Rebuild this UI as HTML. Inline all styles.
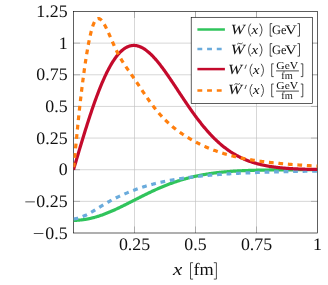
<!DOCTYPE html>
<html><head><meta charset="utf-8"><title>plot</title>
<style>html,body{margin:0;padding:0;background:#fff;width:328px;height:285px;overflow:hidden}</style></head>
<body>
<svg width="328" height="285" viewBox="0 0 328 285" style="position:absolute;left:0;top:0">
<defs><clipPath id="c"><rect x="73.50" y="11.50" width="244.00" height="221.50"/></clipPath></defs>
<rect width="328" height="285" fill="#fff"/>
<path d="M134.50 11.50V233.00M195.50 11.50V233.00M256.50 11.50V233.00M73.50 43.14H317.50M73.50 74.79H317.50M73.50 106.43H317.50M73.50 138.07H317.50M73.50 169.71H317.50M73.50 201.36H317.50" stroke="#bfbfbf" stroke-width="0.63" fill="none"/>
<path d="M134.50 233.00v-6.50M134.50 11.50v6.50M195.50 233.00v-6.50M195.50 11.50v6.50M256.50 233.00v-6.50M256.50 11.50v6.50M73.50 43.14h6.50M317.50 43.14h-6.50M73.50 74.79h6.50M317.50 74.79h-6.50M73.50 106.43h6.50M317.50 106.43h-6.50M73.50 138.07h6.50M317.50 138.07h-6.50M73.50 169.71h6.50M317.50 169.71h-6.50M73.50 201.36h6.50M317.50 201.36h-6.50" stroke="#7f7f7f" stroke-width="0.5" fill="none"/>
<rect x="73.50" y="11.50" width="244.00" height="221.50" fill="none" stroke="#000" stroke-width="0.63"/>
<g clip-path="url(#c)" fill="none" stroke-width="3.20" stroke-linejoin="round">
<path d="M73.50 220.34 L74.11 220.34 L74.72 220.33 L75.33 220.32 L75.94 220.30 L76.55 220.28 L77.16 220.25 L77.77 220.22 L78.38 220.18 L78.99 220.13 L79.60 220.08 L80.21 220.03 L80.82 219.97 L81.43 219.91 L82.04 219.84 L82.65 219.76 L83.26 219.68 L83.87 219.60 L84.48 219.51 L85.09 219.42 L85.70 219.32 L86.31 219.21 L86.92 219.10 L87.53 218.99 L88.14 218.87 L88.75 218.75 L89.36 218.62 L89.97 218.49 L90.58 218.35 L91.19 218.21 L91.80 218.06 L92.41 217.91 L93.02 217.76 L93.63 217.60 L94.24 217.43 L94.85 217.27 L95.46 217.09 L96.07 216.92 L96.68 216.74 L97.29 216.55 L97.90 216.36 L98.51 216.17 L99.12 215.97 L99.73 215.77 L100.34 215.57 L100.95 215.36 L101.56 215.15 L102.17 214.93 L102.78 214.71 L103.39 214.49 L104.00 214.26 L104.61 214.03 L105.22 213.80 L105.83 213.56 L106.44 213.32 L107.05 213.08 L107.66 212.84 L108.27 212.59 L108.88 212.34 L109.49 212.08 L110.10 211.82 L110.71 211.57 L111.32 211.30 L111.93 211.04 L112.54 210.77 L113.15 210.50 L113.76 210.23 L114.37 209.95 L114.98 209.68 L115.59 209.40 L116.20 209.11 L116.81 208.83 L117.42 208.55 L118.03 208.26 L118.64 207.97 L119.25 207.68 L119.86 207.39 L120.47 207.09 L121.08 206.80 L121.69 206.50 L122.30 206.20 L122.91 205.90 L123.52 205.60 L124.13 205.30 L124.74 205.00 L125.35 204.70 L125.96 204.39 L126.57 204.08 L127.18 203.78 L127.79 203.47 L128.40 203.16 L129.01 202.86 L129.62 202.55 L130.23 202.24 L130.84 201.93 L131.45 201.62 L132.06 201.31 L132.67 201.00 L133.28 200.69 L133.89 200.38 L134.50 200.06 L135.11 199.75 L135.72 199.44 L136.33 199.13 L136.94 198.82 L137.55 198.51 L138.16 198.20 L138.77 197.90 L139.38 197.59 L139.99 197.28 L140.60 196.97 L141.21 196.67 L141.82 196.36 L142.43 196.06 L143.04 195.75 L143.65 195.45 L144.26 195.15 L144.87 194.84 L145.48 194.54 L146.09 194.24 L146.70 193.95 L147.31 193.65 L147.92 193.35 L148.53 193.06 L149.14 192.77 L149.75 192.47 L150.36 192.18 L150.97 191.89 L151.58 191.61 L152.19 191.32 L152.80 191.04 L153.41 190.75 L154.02 190.47 L154.63 190.19 L155.24 189.91 L155.85 189.64 L156.46 189.36 L157.07 189.09 L157.68 188.82 L158.29 188.55 L158.90 188.28 L159.51 188.02 L160.12 187.76 L160.73 187.50 L161.34 187.24 L161.95 186.98 L162.56 186.72 L163.17 186.47 L163.78 186.22 L164.39 185.97 L165.00 185.72 L165.61 185.48 L166.22 185.24 L166.83 185.00 L167.44 184.76 L168.05 184.52 L168.66 184.29 L169.27 184.06 L169.88 183.83 L170.49 183.60 L171.10 183.38 L171.71 183.15 L172.32 182.93 L172.93 182.71 L173.54 182.50 L174.15 182.29 L174.76 182.07 L175.37 181.87 L175.98 181.66 L176.59 181.45 L177.20 181.25 L177.81 181.05 L178.42 180.86 L179.03 180.66 L179.64 180.47 L180.25 180.28 L180.86 180.09 L181.47 179.90 L182.08 179.72 L182.69 179.54 L183.30 179.36 L183.91 179.18 L184.52 179.01 L185.13 178.84 L185.74 178.67 L186.35 178.50 L186.96 178.34 L187.57 178.17 L188.18 178.01 L188.79 177.85 L189.40 177.70 L190.01 177.54 L190.62 177.39 L191.23 177.24 L191.84 177.09 L192.45 176.95 L193.06 176.80 L193.67 176.66 L194.28 176.52 L194.89 176.39 L195.50 176.25 L196.11 176.12 L196.72 175.99 L197.33 175.86 L197.94 175.73 L198.55 175.61 L199.16 175.49 L199.77 175.37 L200.38 175.25 L200.99 175.13 L201.60 175.02 L202.21 174.90 L202.82 174.79 L203.43 174.68 L204.04 174.57 L204.65 174.47 L205.26 174.37 L205.87 174.26 L206.48 174.16 L207.09 174.06 L207.70 173.97 L208.31 173.87 L208.92 173.78 L209.53 173.69 L210.14 173.60 L210.75 173.51 L211.36 173.42 L211.97 173.34 L212.58 173.26 L213.19 173.17 L213.80 173.09 L214.41 173.01 L215.02 172.94 L215.63 172.86 L216.24 172.79 L216.85 172.71 L217.46 172.64 L218.07 172.57 L218.68 172.50 L219.29 172.44 L219.90 172.37 L220.51 172.31 L221.12 172.24 L221.73 172.18 L222.34 172.12 L222.95 172.06 L223.56 172.00 L224.17 171.95 L224.78 171.89 L225.39 171.84 L226.00 171.78 L226.61 171.73 L227.22 171.68 L227.83 171.63 L228.44 171.58 L229.05 171.53 L229.66 171.48 L230.27 171.44 L230.88 171.39 L231.49 171.35 L232.10 171.31 L232.71 171.26 L233.32 171.22 L233.93 171.18 L234.54 171.14 L235.15 171.11 L235.76 171.07 L236.37 171.03 L236.98 171.00 L237.59 170.96 L238.20 170.93 L238.81 170.90 L239.42 170.86 L240.03 170.83 L240.64 170.80 L241.25 170.77 L241.86 170.74 L242.47 170.71 L243.08 170.68 L243.69 170.66 L244.30 170.63 L244.91 170.60 L245.52 170.58 L246.13 170.55 L246.74 170.53 L247.35 170.51 L247.96 170.48 L248.57 170.46 L249.18 170.44 L249.79 170.42 L250.40 170.40 L251.01 170.38 L251.62 170.36 L252.23 170.34 L252.84 170.32 L253.45 170.30 L254.06 170.29 L254.67 170.27 L255.28 170.25 L255.89 170.24 L256.50 170.22 L257.11 170.21 L257.72 170.19 L258.33 170.18 L258.94 170.16 L259.55 170.15 L260.16 170.13 L260.77 170.12 L261.38 170.11 L261.99 170.10 L262.60 170.08 L263.21 170.07 L263.82 170.06 L264.43 170.05 L265.04 170.04 L265.65 170.03 L266.26 170.02 L266.87 170.01 L267.48 170.00 L268.09 169.99 L268.70 169.98 L269.31 169.97 L269.92 169.97 L270.53 169.96 L271.14 169.95 L271.75 169.94 L272.36 169.93 L272.97 169.93 L273.58 169.92 L274.19 169.91 L274.80 169.91 L275.41 169.90 L276.02 169.89 L276.63 169.89 L277.24 169.88 L277.85 169.88 L278.46 169.87 L279.07 169.87 L279.68 169.86 L280.29 169.86 L280.90 169.85 L281.51 169.85 L282.12 169.84 L282.73 169.84 L283.34 169.83 L283.95 169.83 L284.56 169.82 L285.17 169.82 L285.78 169.82 L286.39 169.81 L287.00 169.81 L287.61 169.81 L288.22 169.80 L288.83 169.80 L289.44 169.80 L290.05 169.79 L290.66 169.79 L291.27 169.79 L291.88 169.79 L292.49 169.78 L293.10 169.78 L293.71 169.78 L294.32 169.78 L294.93 169.77 L295.54 169.77 L296.15 169.77 L296.76 169.77 L297.37 169.77 L297.98 169.76 L298.59 169.76 L299.20 169.76 L299.81 169.76 L300.42 169.76 L301.03 169.76 L301.64 169.75 L302.25 169.75 L302.86 169.75 L303.47 169.75 L304.08 169.75 L304.69 169.75 L305.30 169.75 L305.91 169.74 L306.52 169.74 L307.13 169.74 L307.74 169.74 L308.35 169.74 L308.96 169.74 L309.57 169.74 L310.18 169.74 L310.79 169.74 L311.40 169.74 L312.01 169.73 L312.62 169.73 L313.23 169.73 L313.84 169.73 L314.45 169.73 L315.06 169.73 L315.67 169.73 L316.28 169.73 L316.89 169.73 L317.50 169.73" stroke="#30c45c"/>
<path transform="scale(1.0100,1)" d="M72.77 218.97 L73.38 218.90 L73.98 218.81 L74.58 218.72 L75.19 218.60 L75.79 218.48 L76.40 218.34 L77.00 218.19 L77.60 218.03 L78.21 217.86 L78.81 217.68 L79.42 217.48 L80.02 217.27 L80.62 217.05 L81.23 216.83 L81.83 216.59 L82.44 216.34 L83.04 216.08 L83.64 215.81 L84.25 215.53 L84.85 215.24 L85.46 214.95 L86.06 214.64 L86.66 214.33 L87.27 214.01 L87.87 213.68 L88.48 213.35 L89.08 213.01 L89.68 212.66 L90.29 212.31 L90.89 211.95 L91.50 211.59 L92.10 211.23 L92.70 210.86 L93.31 210.49 L93.91 210.11 L94.51 209.73 L95.12 209.36 L95.72 208.98 L96.33 208.60 L96.93 208.22 L97.53 207.84 L98.14 207.46 L98.74 207.08 L99.35 206.70 L99.95 206.32 L100.55 205.95 L101.16 205.57 L101.76 205.20 L102.37 204.83 L102.97 204.47 L103.57 204.10 L104.18 203.74 L104.78 203.38 L105.39 203.03 L105.99 202.67 L106.59 202.32 L107.20 201.98 L107.80 201.64 L108.41 201.30 L109.01 200.96 L109.61 200.63 L110.22 200.30 L110.82 199.98 L111.43 199.66 L112.03 199.34 L112.63 199.02 L113.24 198.71 L113.84 198.40 L114.45 198.10 L115.05 197.80 L115.65 197.50 L116.26 197.21 L116.86 196.92 L117.47 196.63 L118.07 196.34 L118.67 196.06 L119.28 195.78 L119.88 195.50 L120.49 195.22 L121.09 194.95 L121.69 194.68 L122.30 194.41 L122.90 194.15 L123.50 193.89 L124.11 193.62 L124.71 193.37 L125.32 193.11 L125.92 192.86 L126.52 192.60 L127.13 192.35 L127.73 192.11 L128.34 191.86 L128.94 191.62 L129.54 191.38 L130.15 191.14 L130.75 190.90 L131.36 190.67 L131.96 190.44 L132.56 190.21 L133.17 189.98 L133.77 189.75 L134.38 189.53 L134.98 189.31 L135.58 189.09 L136.19 188.87 L136.79 188.66 L137.40 188.45 L138.00 188.24 L138.60 188.03 L139.21 187.82 L139.81 187.62 L140.42 187.42 L141.02 187.22 L141.62 187.03 L142.23 186.83 L142.83 186.64 L143.44 186.45 L144.04 186.26 L144.64 186.08 L145.25 185.90 L145.85 185.72 L146.46 185.54 L147.06 185.36 L147.66 185.19 L148.27 185.02 L148.87 184.85 L149.48 184.68 L150.08 184.51 L150.68 184.35 L151.29 184.19 L151.89 184.03 L152.50 183.87 L153.10 183.72 L153.70 183.56 L154.31 183.41 L154.91 183.26 L155.51 183.12 L156.12 182.97 L156.72 182.83 L157.33 182.68 L157.93 182.54 L158.53 182.40 L159.14 182.27 L159.74 182.13 L160.35 182.00 L160.95 181.87 L161.55 181.74 L162.16 181.61 L162.76 181.48 L163.37 181.35 L163.97 181.23 L164.57 181.11 L165.18 180.99 L165.78 180.87 L166.39 180.75 L166.99 180.63 L167.59 180.52 L168.20 180.40 L168.80 180.29 L169.41 180.18 L170.01 180.07 L170.61 179.96 L171.22 179.85 L171.82 179.74 L172.43 179.64 L173.03 179.53 L173.63 179.43 L174.24 179.33 L174.84 179.23 L175.45 179.13 L176.05 179.03 L176.65 178.94 L177.26 178.84 L177.86 178.75 L178.47 178.65 L179.07 178.56 L179.67 178.47 L180.28 178.38 L180.88 178.29 L181.49 178.20 L182.09 178.11 L182.69 178.03 L183.30 177.94 L183.90 177.86 L184.50 177.77 L185.11 177.69 L185.71 177.61 L186.32 177.53 L186.92 177.45 L187.52 177.37 L188.13 177.29 L188.73 177.22 L189.34 177.14 L189.94 177.07 L190.54 176.99 L191.15 176.92 L191.75 176.85 L192.36 176.78 L192.96 176.70 L193.56 176.63 L194.17 176.57 L194.77 176.50 L195.38 176.43 L195.98 176.36 L196.58 176.30 L197.19 176.23 L197.79 176.17 L198.40 176.10 L199.00 176.04 L199.60 175.98 L200.21 175.92 L200.81 175.86 L201.42 175.80 L202.02 175.74 L202.62 175.68 L203.23 175.62 L203.83 175.56 L204.44 175.51 L205.04 175.45 L205.64 175.39 L206.25 175.34 L206.85 175.29 L207.46 175.23 L208.06 175.18 L208.66 175.13 L209.27 175.08 L209.87 175.02 L210.48 174.97 L211.08 174.92 L211.68 174.88 L212.29 174.83 L212.89 174.78 L213.50 174.73 L214.10 174.68 L214.70 174.64 L215.31 174.59 L215.91 174.55 L216.51 174.50 L217.12 174.46 L217.72 174.41 L218.33 174.37 L218.93 174.33 L219.53 174.29 L220.14 174.24 L220.74 174.20 L221.35 174.16 L221.95 174.12 L222.55 174.08 L223.16 174.04 L223.76 174.00 L224.37 173.97 L224.97 173.93 L225.57 173.89 L226.18 173.85 L226.78 173.82 L227.39 173.78 L227.99 173.74 L228.59 173.71 L229.20 173.67 L229.80 173.64 L230.41 173.60 L231.01 173.57 L231.61 173.54 L232.22 173.50 L232.82 173.47 L233.43 173.44 L234.03 173.41 L234.63 173.37 L235.24 173.34 L235.84 173.31 L236.45 173.28 L237.05 173.25 L237.65 173.22 L238.26 173.19 L238.86 173.16 L239.47 173.13 L240.07 173.10 L240.67 173.07 L241.28 173.05 L241.88 173.02 L242.49 172.99 L243.09 172.96 L243.69 172.94 L244.30 172.91 L244.90 172.88 L245.50 172.86 L246.11 172.83 L246.71 172.81 L247.32 172.78 L247.92 172.75 L248.52 172.73 L249.13 172.71 L249.73 172.68 L250.34 172.66 L250.94 172.63 L251.54 172.61 L252.15 172.59 L252.75 172.56 L253.36 172.54 L253.96 172.52 L254.56 172.50 L255.17 172.47 L255.77 172.45 L256.38 172.43 L256.98 172.41 L257.58 172.39 L258.19 172.37 L258.79 172.34 L259.40 172.32 L260.00 172.30 L260.60 172.28 L261.21 172.26 L261.81 172.24 L262.42 172.22 L263.02 172.20 L263.62 172.18 L264.23 172.16 L264.83 172.15 L265.44 172.13 L266.04 172.11 L266.64 172.09 L267.25 172.07 L267.85 172.05 L268.46 172.04 L269.06 172.02 L269.66 172.00 L270.27 171.98 L270.87 171.97 L271.48 171.95 L272.08 171.93 L272.68 171.92 L273.29 171.90 L273.89 171.88 L274.50 171.87 L275.10 171.85 L275.70 171.83 L276.31 171.82 L276.91 171.80 L277.51 171.79 L278.12 171.77 L278.72 171.76 L279.33 171.74 L279.93 171.73 L280.53 171.71 L281.14 171.70 L281.74 171.68 L282.35 171.67 L282.95 171.65 L283.55 171.64 L284.16 171.62 L284.76 171.61 L285.37 171.60 L285.97 171.58 L286.57 171.57 L287.18 171.56 L287.78 171.54 L288.39 171.53 L288.99 171.52 L289.59 171.50 L290.20 171.49 L290.80 171.48 L291.41 171.46 L292.01 171.45 L292.61 171.44 L293.22 171.43 L293.82 171.41 L294.43 171.40 L295.03 171.39 L295.63 171.38 L296.24 171.37 L296.84 171.36 L297.45 171.34 L298.05 171.33 L298.65 171.32 L299.26 171.31 L299.86 171.30 L300.47 171.29 L301.07 171.28 L301.67 171.27 L302.28 171.25 L302.88 171.24 L303.49 171.23 L304.09 171.22 L304.69 171.21 L305.30 171.20 L305.90 171.19 L306.50 171.18 L307.11 171.17 L307.71 171.16 L308.32 171.15 L308.92 171.14 L309.52 171.13 L310.13 171.12 L310.73 171.11 L311.34 171.10 L311.94 171.09 L312.54 171.09 L313.15 171.08 L313.75 171.07 L314.36 171.06" stroke="#6aabdc" stroke-dasharray="4.712 4.712" stroke-dashoffset="0"/>
<path d="M73.50 169.71 L74.11 167.64 L74.72 165.57 L75.33 163.50 L75.94 161.43 L76.55 159.36 L77.16 157.30 L77.77 155.24 L78.38 153.19 L78.99 151.14 L79.60 149.09 L80.21 147.06 L80.82 145.03 L81.43 143.00 L82.04 140.99 L82.65 138.98 L83.26 136.98 L83.87 135.00 L84.48 133.02 L85.09 131.06 L85.70 129.10 L86.31 127.16 L86.92 125.23 L87.53 123.32 L88.14 121.42 L88.75 119.53 L89.36 117.66 L89.97 115.80 L90.58 113.96 L91.19 112.14 L91.80 110.34 L92.41 108.55 L93.02 106.78 L93.63 105.03 L94.24 103.29 L94.85 101.58 L95.46 99.89 L96.07 98.22 L96.68 96.57 L97.29 94.94 L97.90 93.33 L98.51 91.74 L99.12 90.18 L99.73 88.64 L100.34 87.12 L100.95 85.63 L101.56 84.16 L102.17 82.72 L102.78 81.30 L103.39 79.90 L104.00 78.53 L104.61 77.19 L105.22 75.87 L105.83 74.58 L106.44 73.31 L107.05 72.07 L107.66 70.86 L108.27 69.67 L108.88 68.52 L109.49 67.38 L110.10 66.28 L110.71 65.21 L111.32 64.16 L111.93 63.14 L112.54 62.15 L113.15 61.19 L113.76 60.26 L114.37 59.35 L114.98 58.48 L115.59 57.63 L116.20 56.81 L116.81 56.02 L117.42 55.26 L118.03 54.53 L118.64 53.82 L119.25 53.15 L119.86 52.51 L120.47 51.89 L121.08 51.30 L121.69 50.74 L122.30 50.21 L122.91 49.71 L123.52 49.24 L124.13 48.80 L124.74 48.38 L125.35 47.99 L125.96 47.63 L126.57 47.30 L127.18 47.00 L127.79 46.72 L128.40 46.48 L129.01 46.26 L129.62 46.06 L130.23 45.90 L130.84 45.76 L131.45 45.64 L132.06 45.56 L132.67 45.50 L133.28 45.46 L133.89 45.45 L134.50 45.47 L135.11 45.51 L135.72 45.58 L136.33 45.67 L136.94 45.78 L137.55 45.92 L138.16 46.09 L138.77 46.27 L139.38 46.48 L139.99 46.72 L140.60 46.97 L141.21 47.25 L141.82 47.55 L142.43 47.87 L143.04 48.21 L143.65 48.57 L144.26 48.95 L144.87 49.35 L145.48 49.78 L146.09 50.22 L146.70 50.68 L147.31 51.16 L147.92 51.66 L148.53 52.17 L149.14 52.70 L149.75 53.25 L150.36 53.82 L150.97 54.40 L151.58 55.00 L152.19 55.62 L152.80 56.24 L153.41 56.89 L154.02 57.55 L154.63 58.22 L155.24 58.91 L155.85 59.61 L156.46 60.32 L157.07 61.04 L157.68 61.78 L158.29 62.53 L158.90 63.28 L159.51 64.06 L160.12 64.84 L160.73 65.63 L161.34 66.43 L161.95 67.24 L162.56 68.05 L163.17 68.88 L163.78 69.72 L164.39 70.56 L165.00 71.41 L165.61 72.27 L166.22 73.13 L166.83 74.00 L167.44 74.88 L168.05 75.76 L168.66 76.64 L169.27 77.54 L169.88 78.43 L170.49 79.33 L171.10 80.24 L171.71 81.14 L172.32 82.06 L172.93 82.97 L173.54 83.88 L174.15 84.80 L174.76 85.72 L175.37 86.64 L175.98 87.57 L176.59 88.49 L177.20 89.42 L177.81 90.34 L178.42 91.27 L179.03 92.19 L179.64 93.11 L180.25 94.04 L180.86 94.96 L181.47 95.88 L182.08 96.80 L182.69 97.72 L183.30 98.63 L183.91 99.55 L184.52 100.46 L185.13 101.37 L185.74 102.27 L186.35 103.17 L186.96 104.07 L187.57 104.97 L188.18 105.86 L188.79 106.74 L189.40 107.63 L190.01 108.51 L190.62 109.38 L191.23 110.25 L191.84 111.11 L192.45 111.97 L193.06 112.82 L193.67 113.67 L194.28 114.51 L194.89 115.35 L195.50 116.18 L196.11 117.01 L196.72 117.83 L197.33 118.64 L197.94 119.45 L198.55 120.25 L199.16 121.04 L199.77 121.83 L200.38 122.60 L200.99 123.38 L201.60 124.14 L202.21 124.90 L202.82 125.65 L203.43 126.40 L204.04 127.14 L204.65 127.87 L205.26 128.59 L205.87 129.30 L206.48 130.01 L207.09 130.71 L207.70 131.40 L208.31 132.09 L208.92 132.76 L209.53 133.43 L210.14 134.10 L210.75 134.75 L211.36 135.39 L211.97 136.03 L212.58 136.66 L213.19 137.29 L213.80 137.90 L214.41 138.51 L215.02 139.10 L215.63 139.70 L216.24 140.28 L216.85 140.85 L217.46 141.42 L218.07 141.98 L218.68 142.53 L219.29 143.08 L219.90 143.61 L220.51 144.14 L221.12 144.66 L221.73 145.18 L222.34 145.68 L222.95 146.18 L223.56 146.67 L224.17 147.15 L224.78 147.63 L225.39 148.09 L226.00 148.56 L226.61 149.01 L227.22 149.45 L227.83 149.89 L228.44 150.32 L229.05 150.75 L229.66 151.16 L230.27 151.57 L230.88 151.98 L231.49 152.37 L232.10 152.76 L232.71 153.15 L233.32 153.52 L233.93 153.89 L234.54 154.25 L235.15 154.61 L235.76 154.96 L236.37 155.30 L236.98 155.64 L237.59 155.97 L238.20 156.29 L238.81 156.61 L239.42 156.92 L240.03 157.23 L240.64 157.53 L241.25 157.82 L241.86 158.11 L242.47 158.39 L243.08 158.67 L243.69 158.94 L244.30 159.21 L244.91 159.47 L245.52 159.73 L246.13 159.98 L246.74 160.22 L247.35 160.46 L247.96 160.70 L248.57 160.93 L249.18 161.15 L249.79 161.37 L250.40 161.59 L251.01 161.80 L251.62 162.00 L252.23 162.21 L252.84 162.40 L253.45 162.60 L254.06 162.78 L254.67 162.97 L255.28 163.15 L255.89 163.33 L256.50 163.50 L257.11 163.67 L257.72 163.83 L258.33 163.99 L258.94 164.15 L259.55 164.30 L260.16 164.45 L260.77 164.60 L261.38 164.74 L261.99 164.88 L262.60 165.01 L263.21 165.15 L263.82 165.27 L264.43 165.40 L265.04 165.52 L265.65 165.64 L266.26 165.76 L266.87 165.87 L267.48 165.98 L268.09 166.09 L268.70 166.20 L269.31 166.30 L269.92 166.40 L270.53 166.50 L271.14 166.59 L271.75 166.69 L272.36 166.78 L272.97 166.86 L273.58 166.95 L274.19 167.03 L274.80 167.11 L275.41 167.19 L276.02 167.27 L276.63 167.34 L277.24 167.42 L277.85 167.49 L278.46 167.56 L279.07 167.62 L279.68 167.69 L280.29 167.75 L280.90 167.81 L281.51 167.87 L282.12 167.93 L282.73 167.99 L283.34 168.04 L283.95 168.10 L284.56 168.15 L285.17 168.20 L285.78 168.25 L286.39 168.29 L287.00 168.34 L287.61 168.38 L288.22 168.43 L288.83 168.47 L289.44 168.51 L290.05 168.55 L290.66 168.59 L291.27 168.63 L291.88 168.66 L292.49 168.70 L293.10 168.73 L293.71 168.76 L294.32 168.80 L294.93 168.83 L295.54 168.86 L296.15 168.89 L296.76 168.91 L297.37 168.94 L297.98 168.97 L298.59 168.99 L299.20 169.02 L299.81 169.04 L300.42 169.07 L301.03 169.09 L301.64 169.11 L302.25 169.13 L302.86 169.15 L303.47 169.17 L304.08 169.19 L304.69 169.21 L305.30 169.23 L305.91 169.24 L306.52 169.26 L307.13 169.28 L307.74 169.29 L308.35 169.31 L308.96 169.32 L309.57 169.34 L310.18 169.35 L310.79 169.36 L311.40 169.38 L312.01 169.39 L312.62 169.40 L313.23 169.41 L313.84 169.42 L314.45 169.44 L315.06 169.45 L315.67 169.46 L316.28 169.47 L316.89 169.47 L317.50 169.48" stroke="#c40a2c"/>
<path transform="scale(1.0045,1)" d="M73.17 169.71 L73.88 162.09 L74.58 154.74 L75.28 147.65 L75.99 140.81 L76.60 134.22 L77.20 127.85 L77.81 121.71 L78.42 115.78 L79.02 110.06 L79.63 104.52 L80.24 99.16 L80.85 93.97 L81.45 88.93 L82.06 84.04 L82.67 79.31 L83.28 74.72 L83.88 70.28 L84.49 65.98 L85.10 61.85 L85.70 57.86 L86.31 54.04 L86.92 50.39 L87.53 46.90 L88.13 43.60 L88.74 40.49 L89.35 37.57 L89.96 34.86 L90.56 32.37 L91.15 30.09 L91.73 28.04 L92.31 26.20 L92.89 24.58 L93.48 23.16 L94.06 21.94 L94.64 20.92 L95.23 20.09 L95.81 19.43 L96.39 18.95 L96.98 18.64 L97.56 18.48 L98.14 18.48 L98.72 18.62 L99.31 18.89 L99.89 19.29 L100.50 19.80 L101.11 20.42 L101.71 21.15 L102.32 21.97 L102.93 22.87 L103.53 23.85 L104.14 24.90 L104.75 26.02 L105.36 27.19 L105.96 28.41 L106.57 29.67 L107.18 30.97 L107.78 32.30 L108.39 33.66 L109.00 35.03 L109.61 36.42 L110.21 37.82 L110.82 39.22 L111.43 40.61 L112.04 42.01 L112.64 43.39 L113.25 44.76 L113.86 46.12 L114.46 47.45 L115.07 48.76 L115.68 50.04 L116.29 51.29 L116.89 52.51 L117.50 53.70 L118.11 54.85 L118.72 55.98 L119.32 57.07 L119.93 58.13 L120.54 59.17 L121.14 60.19 L121.75 61.19 L122.36 62.16 L122.97 63.12 L123.57 64.06 L124.18 64.99 L124.79 65.90 L125.40 66.81 L126.00 67.70 L126.61 68.58 L127.22 69.46 L127.82 70.33 L128.43 71.20 L129.04 72.06 L129.65 72.92 L130.25 73.78 L130.86 74.65 L131.47 75.51 L132.08 76.38 L132.68 77.25 L133.29 78.13 L133.90 79.01 L134.50 79.90 L135.11 80.80 L135.72 81.70 L136.33 82.61 L136.93 83.52 L137.54 84.44 L138.15 85.35 L138.76 86.27 L139.36 87.19 L139.97 88.11 L140.58 89.02 L141.18 89.94 L141.79 90.85 L142.40 91.77 L143.01 92.67 L143.61 93.58 L144.22 94.48 L144.83 95.38 L145.44 96.27 L146.04 97.15 L146.65 98.03 L147.26 98.90 L147.86 99.77 L148.47 100.63 L149.08 101.48 L149.69 102.32 L150.29 103.16 L150.90 103.99 L151.51 104.80 L152.12 105.61 L152.72 106.41 L153.33 107.20 L153.94 107.98 L154.54 108.76 L155.15 109.52 L155.76 110.27 L156.37 111.01 L156.97 111.74 L157.58 112.46 L158.19 113.17 L158.80 113.87 L159.40 114.56 L160.01 115.23 L160.62 115.90 L161.22 116.56 L161.83 117.21 L162.44 117.85 L163.05 118.48 L163.65 119.10 L164.26 119.71 L164.87 120.31 L165.48 120.90 L166.08 121.49 L166.69 122.07 L167.30 122.63 L167.90 123.20 L168.51 123.75 L169.12 124.29 L169.73 124.83 L170.33 125.36 L170.94 125.89 L171.55 126.40 L172.16 126.91 L172.76 127.41 L173.37 127.91 L173.98 128.40 L174.58 128.88 L175.19 129.36 L175.80 129.83 L176.41 130.29 L177.01 130.75 L177.62 131.20 L178.23 131.65 L178.84 132.09 L179.44 132.53 L180.05 132.96 L180.66 133.38 L181.26 133.80 L181.87 134.22 L182.48 134.62 L183.09 135.03 L183.69 135.43 L184.30 135.82 L184.91 136.21 L185.52 136.60 L186.12 136.98 L186.73 137.36 L187.34 137.73 L187.94 138.10 L188.55 138.46 L189.16 138.82 L189.77 139.18 L190.37 139.53 L190.98 139.88 L191.59 140.22 L192.20 140.56 L192.80 140.90 L193.41 141.23 L194.02 141.56 L194.62 141.89 L195.23 142.21 L195.84 142.53 L196.45 142.85 L197.05 143.16 L197.66 143.47 L198.27 143.78 L198.88 144.08 L199.48 144.38 L200.09 144.67 L200.70 144.97 L201.30 145.26 L201.91 145.54 L202.52 145.83 L203.13 146.11 L203.73 146.38 L204.34 146.66 L204.95 146.93 L205.56 147.19 L206.16 147.46 L206.77 147.72 L207.38 147.97 L207.98 148.23 L208.59 148.48 L209.20 148.73 L209.81 148.98 L210.41 149.22 L211.02 149.46 L211.63 149.70 L212.23 149.93 L212.84 150.16 L213.45 150.39 L214.06 150.61 L214.66 150.84 L215.27 151.06 L215.88 151.27 L216.49 151.49 L217.09 151.70 L217.70 151.91 L218.31 152.12 L218.91 152.32 L219.52 152.52 L220.13 152.72 L220.74 152.92 L221.34 153.11 L221.95 153.30 L222.56 153.49 L223.17 153.68 L223.77 153.86 L224.38 154.04 L224.99 154.22 L225.59 154.40 L226.20 154.57 L226.81 154.75 L227.42 154.92 L228.02 155.08 L228.63 155.25 L229.24 155.41 L229.85 155.58 L230.45 155.73 L231.06 155.89 L231.67 156.05 L232.27 156.20 L232.88 156.35 L233.49 156.50 L234.10 156.65 L234.70 156.79 L235.31 156.93 L235.92 157.07 L236.53 157.21 L237.13 157.35 L237.74 157.49 L238.35 157.62 L238.95 157.75 L239.56 157.88 L240.17 158.01 L240.78 158.13 L241.38 158.26 L241.99 158.38 L242.60 158.50 L243.21 158.62 L243.81 158.74 L244.42 158.86 L245.03 158.97 L245.63 159.08 L246.24 159.20 L246.85 159.31 L247.46 159.41 L248.06 159.52 L248.67 159.63 L249.28 159.73 L249.89 159.83 L250.49 159.93 L251.10 160.03 L251.71 160.13 L252.31 160.23 L252.92 160.33 L253.53 160.42 L254.14 160.52 L254.74 160.61 L255.35 160.70 L255.96 160.79 L256.57 160.88 L257.17 160.97 L257.78 161.05 L258.39 161.14 L258.99 161.22 L259.60 161.31 L260.21 161.39 L260.82 161.47 L261.42 161.55 L262.03 161.63 L262.64 161.71 L263.25 161.79 L263.85 161.86 L264.46 161.94 L265.07 162.01 L265.67 162.09 L266.28 162.16 L266.89 162.23 L267.50 162.30 L268.10 162.37 L268.71 162.44 L269.32 162.51 L269.93 162.58 L270.53 162.65 L271.14 162.71 L271.75 162.78 L272.35 162.84 L272.96 162.91 L273.57 162.97 L274.18 163.03 L274.78 163.09 L275.39 163.16 L276.00 163.22 L276.61 163.28 L277.21 163.34 L277.82 163.39 L278.43 163.45 L279.03 163.51 L279.64 163.57 L280.25 163.62 L280.86 163.68 L281.46 163.73 L282.07 163.79 L282.68 163.84 L283.29 163.89 L283.89 163.95 L284.50 164.00 L285.11 164.05 L285.71 164.10 L286.32 164.15 L286.93 164.20 L287.54 164.25 L288.14 164.30 L288.75 164.35 L289.36 164.40 L289.97 164.44 L290.57 164.49 L291.18 164.54 L291.79 164.58 L292.39 164.63 L293.00 164.67 L293.61 164.72 L294.22 164.76 L294.82 164.81 L295.43 164.85 L296.04 164.89 L296.65 164.94 L297.25 164.98 L297.86 165.02 L298.47 165.06 L299.07 165.10 L299.68 165.14 L300.29 165.18 L300.90 165.22 L301.50 165.26 L302.11 165.30 L302.72 165.34 L303.33 165.38 L303.93 165.42 L304.54 165.46 L305.15 165.49 L305.75 165.53 L306.36 165.57 L306.97 165.60 L307.58 165.64 L308.18 165.68 L308.79 165.71 L309.40 165.75 L310.00 165.78 L310.61 165.82 L311.22 165.85 L311.83 165.89 L312.43 165.92 L313.04 165.95 L313.65 165.99 L314.26 166.02 L314.86 166.05 L315.47 166.08 L316.08 166.12" stroke="#ff7f0e" stroke-dasharray="4.740 4.740" stroke-dashoffset="6.98"/>
</g>
<rect x="191.20" y="17.30" width="121.10" height="86.10" fill="#fff" stroke="#000" stroke-width="0.63"/>
<g fill="none" stroke-width="2.50">
<path d="M197.4 29.50H224.9" stroke="#30c45c"/>
<path d="M197.4 49.10H224.9" stroke="#6aabdc" stroke-dasharray="4.85 4.85"/>
<path d="M197.4 69.10H224.9" stroke="#c40a2c"/>
<path d="M197.4 90.40H224.9" stroke="#ff7f0e" stroke-dasharray="4.85 4.85"/>
</g>
<g font-family="'Liberation Serif', serif" fill="#111" text-rendering="geometricPrecision" style="will-change:transform">
<text transform="translate(67.60 17.20) scale(1.015 1)" font-size="17.60" text-anchor="end">1.25</text>
<text transform="translate(67.60 48.84) scale(1.015 1)" font-size="17.60" text-anchor="end">1</text>
<text transform="translate(67.60 80.49) scale(1.015 1)" font-size="17.60" text-anchor="end">0.75</text>
<text transform="translate(67.60 112.13) scale(1.015 1)" font-size="17.60" text-anchor="end">0.5</text>
<text transform="translate(67.60 143.77) scale(1.015 1)" font-size="17.60" text-anchor="end">0.25</text>
<text transform="translate(67.60 175.41) scale(1.015 1)" font-size="17.60" text-anchor="end">0</text>
<text transform="translate(67.60 207.06) scale(1.015 1)" font-size="17.60" text-anchor="end">0.25</text>
<text transform="translate(67.60 238.70) scale(1.015 1)" font-size="17.60" text-anchor="end">0.5</text>
<text transform="translate(134.50 250.10) scale(1.015 1)" font-size="17.60" text-anchor="middle">0.25</text>
<text transform="translate(195.50 250.10) scale(1.015 1)" font-size="17.60" text-anchor="middle">0.5</text>
<text transform="translate(256.50 250.10) scale(1.015 1)" font-size="17.60" text-anchor="middle">0.75</text>
<text transform="translate(317.50 250.10) scale(1.015 1)" font-size="17.60" text-anchor="middle">1</text>
<text transform="translate(172.90 274.90) scale(1.200 1)" font-size="17.40" font-style="italic">x</text>
<text transform="translate(193.50 274.90) scale(1.050 1)" font-size="17.40">fm</text>
<text transform="translate(230.80 33.50) scale(1.200 1)" font-size="14.00" font-style="italic">W</text>
<text transform="translate(251.60 33.50) scale(1.150 1)" font-size="12.90" font-style="italic">x</text>
<text transform="translate(272.00 33.50) scale(0.960 1)" font-size="12.90">Ge</text>
<text transform="translate(285.00 33.50) scale(1.270 1)" font-size="12.90">V</text>
<text transform="translate(230.80 53.50) scale(1.200 1)" font-size="14.00" font-style="italic">W</text>
<text transform="translate(251.60 53.50) scale(1.150 1)" font-size="12.90" font-style="italic">x</text>
<text transform="translate(272.00 53.50) scale(0.960 1)" font-size="12.90">Ge</text>
<text transform="translate(285.00 53.50) scale(1.270 1)" font-size="12.90">V</text>
<text transform="translate(228.10 73.70) scale(1.200 1)" font-size="14.00" font-style="italic">W</text>
<text transform="translate(253.10 73.70) scale(1.150 1)" font-size="12.90" font-style="italic">x</text>
<text transform="translate(276.30 69.00) scale(1.095 1)" font-size="10.60">GeV</text>
<text transform="translate(281.20 78.60) scale(0.980 1)" font-size="10.60">fm</text>
<text transform="translate(228.10 93.90) scale(1.200 1)" font-size="14.00" font-style="italic">W</text>
<text transform="translate(253.10 93.90) scale(1.150 1)" font-size="12.90" font-style="italic">x</text>
<text transform="translate(276.30 89.20) scale(1.095 1)" font-size="10.60">GeV</text>
<text transform="translate(281.20 98.80) scale(0.980 1)" font-size="10.60">fm</text>
</g>
<path d="M25.3 201.86H34.9M33.8 233.50H43.4M193.10 262.70H190.50V279.10H193.10M213.80 262.70H216.40V279.10H213.80M250.80 23.60Q246.20 30.00 250.80 36.40M259.70 23.60Q264.30 30.00 259.70 36.40M272.20 23.60H270.20V36.20H272.20M297.50 23.60H299.50V36.20H297.50M237.10 44.30q1.4 -1.7 2.75 -0.7t2.75 -0.7M250.80 43.60Q246.20 50.00 250.80 56.40M259.70 43.60Q264.30 50.00 259.70 56.40M272.20 43.60H270.20V56.20H272.20M297.50 43.60H299.50V56.20H297.50M246.4 64.70L244.9 68.80M252.30 63.80Q247.70 70.20 252.30 76.60M261.20 63.80Q265.80 70.20 261.20 76.60M273.70 63.80H271.70V76.60H273.70M300.80 63.80H302.80V76.60H300.80M276.1 70.90H298.9M234.40 84.70q1.4 -1.7 2.75 -0.7t2.75 -0.7M246.4 84.90L244.9 89.00M252.30 84.00Q247.70 90.40 252.30 96.80M261.20 84.00Q265.80 90.40 261.20 96.80M273.70 84.00H271.70V96.80H273.70M300.80 84.00H302.80V96.80H300.80M276.1 91.10H298.9" stroke="#000" stroke-width="0.7" fill="none"/>
</svg>
</body></html>
